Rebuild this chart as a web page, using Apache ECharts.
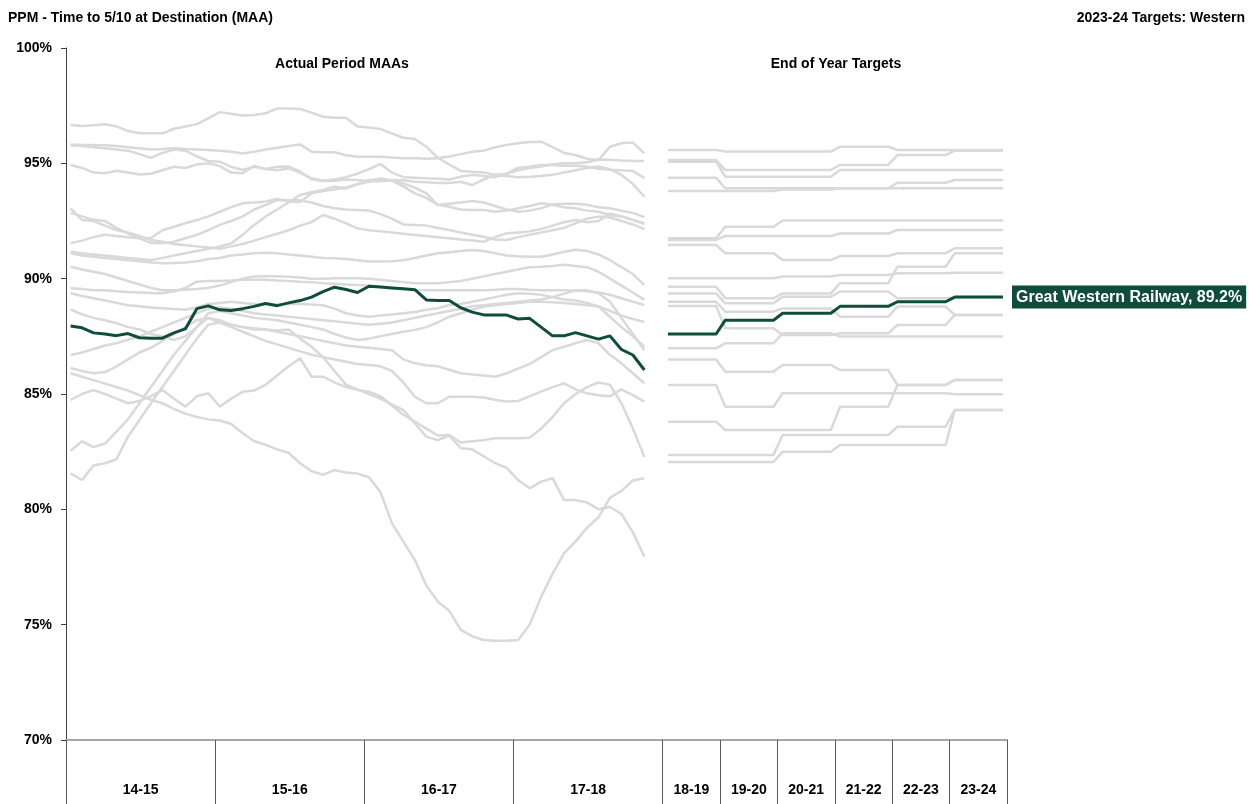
<!DOCTYPE html>
<html>
<head>
<meta charset="utf-8">
<title>PPM - Time to 5/10 at Destination (MAA)</title>
<script src="https://cdn.jsdelivr.net/npm/echarts@6/dist/echarts.min.js"></script>
<style>
html, body { margin: 0; padding: 0; background: #fff; }
#main { width: 1253px; height: 804px; }
</style>
</head>
<body>
<div id="main"></div>
<script>
// PPM MAA chart - actual period MAAs + end of year targets, GWR highlighted
var actualYears = ['14-15', '15-16', '16-17', '17-18'];
var targetYears = ['18-19', '19-20', '20-21', '21-22', '22-23', '23-24'];
var periodsPerYear = 13;
var targetWidth = 5; // a target year takes the width of 5 periods

var gwrName = 'Great Western Railway';
var gwrActual = [87.95, 87.87, 87.65, 87.6, 87.53, 87.62, 87.44, 87.42, 87.42, 87.65,
  87.82, 88.7, 88.82, 88.65, 88.62, 88.7, 88.8, 88.92, 88.83, 88.95,
  89.05, 89.2, 89.44, 89.63, 89.53, 89.4, 89.67, 89.64, 89.6, 89.56,
  89.52, 89.08, 89.05, 89.05, 88.74, 88.55, 88.43, 88.43, 88.42, 88.25,
  88.28, 87.9, 87.52, 87.52, 87.66, 87.52, 87.38, 87.52, 86.93, 86.69,
  86.04];
var gwrTarget = [87.6, 88.2, 88.5, 88.8, 89.0, 89.2];

// other operators, actual period MAAs (P1 14-15 .. P12 17-18)
var otherActual = [
  [96.66, 96.62, 96.65, 96.69, 96.6, 96.4, 96.3, 96.3, 96.3, 96.5,
   96.6, 96.7, 96.95, 97.22, 97.15, 97.07, 97.1, 97.17, 97.38, 97.38,
   97.36, 97.2, 97.02, 96.98, 96.98, 96.6, 96.55, 96.49, 96.3, 96.11,
   96.05, 95.72, 95.24, 94.95, 94.67, 94.64, 94.6, 94.5, 94.55, 94.81,
   94.85, 94.93, 94.93, 94.9, 94.89, 94.85, 94.76, 94.72, 94.7, 94.67,
   94.36],
  [95.82, 95.8, 95.8, 95.78, 95.75, 95.7, 95.65, 95.6, 95.62, 95.65,
   95.62, 95.6, 95.58, 95.55, 95.5, 95.43, 95.5, 95.6, 95.68, 95.75,
   95.82, 95.5, 95.48, 95.48, 95.35, 95.29, 95.29, 95.29, 95.25, 95.22,
   95.22, 95.2, 95.22, 95.3, 95.4, 95.5, 95.55, 95.7, 95.8, 95.87,
   95.92, 95.94, 95.7, 95.45, 95.36, 95.2, 95.14, 95.72, 95.87, 95.9,
   95.43],
  [95.78, 95.75, 95.7, 95.65, 95.6, 95.55, 95.4, 95.24, 95.45, 95.6,
   95.55, 95.3, 95.1, 95.07, 94.85, 94.71, 94.85, 94.75, 94.7, 94.78,
   94.6, 94.35, 94.25, 94.3, 94.4, 94.55, 94.75, 94.97, 94.6, 94.4,
   94.38, 94.35, 94.33, 94.3, 94.42, 94.5, 94.45, 94.4, 94.55, 94.7,
   94.8, 94.86, 94.95, 95.0, 95.0, 95.05, 95.17, 95.15, 95.12, 95.1,
   95.1],
  [94.93, 94.8, 94.6, 94.57, 94.68, 94.6, 94.52, 94.55, 94.7, 94.85,
   94.8, 94.95, 95.0, 94.88, 94.6, 94.57, 94.89, 94.75, 94.85, 94.86,
   94.65, 94.3, 94.23, 94.25, 94.3, 94.28, 94.22, 94.22, 94.28, 94.27,
   94.2, 94.18, 94.15, 94.15, 94.2, 94.06, 94.3, 94.5, 94.45, 94.4,
   94.42, 94.45, 94.5, 94.6, 94.7, 94.8, 94.86, 94.75, 94.5, 94.1,
   93.55],
  [91.54, 91.65, 91.8, 91.9, 91.85, 91.8, 91.75, 91.76, 92.1, 92.25,
   92.4, 92.54, 92.7, 92.9, 93.1, 93.27, 93.3, 93.35, 93.45, 93.35,
   93.32, 93.7, 93.8, 93.87, 93.95, 94.09, 94.2, 94.35, 94.25, 94.13,
   93.95, 93.7, 93.19, 93.25, 93.3, 93.37, 93.3, 93.15, 93.0, 92.9,
   92.95, 93.05, 93.22, 93.25, 93.25, 93.2, 93.1, 93.05, 92.95, 92.85,
   92.67],
  [92.85, 92.7, 92.55, 92.5, 92.2, 91.95, 91.75, 91.55, 91.53, 91.6,
   91.75, 91.9, 92.1, 92.33, 92.5, 92.7, 93.0, 93.2, 93.41, 93.4,
   93.4, 93.3, 93.15, 93.05, 93.0, 92.98, 92.95, 92.8, 92.6, 92.35,
   92.33, 92.3, 92.2, 92.11, 92.0, 91.9, 91.82, 91.7, 91.68, 91.8,
   91.9, 92.0, 92.1, 92.2, 92.4, 92.6, 92.69, 92.65, 92.5, 92.35,
   92.15],
  [91.17, 91.1, 91.05, 91.0, 90.95, 90.9, 90.85, 90.8, 90.9, 91.0,
   91.1, 91.2, 91.3, 91.4, 91.53, 91.9, 92.33, 92.7, 93.0, 93.3,
   93.63, 93.75, 93.84, 94.0, 93.9, 94.1, 94.28, 94.3, 94.25, 94.0,
   93.7, 93.5, 93.2, 93.12, 93.0, 92.98, 92.98, 92.9, 92.95, 93.05,
   93.15, 93.27, 93.2, 93.1, 93.05, 92.95, 92.9, 92.75, 92.7, 92.55,
   92.37],
  [93.05, 92.54, 92.5, 92.3, 92.11, 92.0, 91.85, 91.68, 91.6, 91.5,
   91.45, 91.4, 91.35, 91.3, 91.4, 91.5, 91.65, 91.8, 91.95, 92.1,
   92.3, 92.45, 92.76, 92.6, 92.4, 92.18, 92.1, 92.05, 92.0, 91.95,
   91.89, 91.85, 91.8, 91.75, 91.7, 91.65, 91.6, 91.8, 91.97, 92.0,
   92.05, 92.15, 92.3, 92.45, 92.54, 92.45, 92.5, 92.83, 92.7, 92.55,
   92.4],
  [91.1, 91.0, 90.95, 90.9, 90.85, 90.8, 90.75, 90.7, 90.67, 90.68,
   90.7, 90.75, 90.85, 90.9, 91.0, 91.05, 91.1, 91.12, 91.1, 91.05,
   91.0, 90.95, 90.9, 90.88, 90.85, 90.8, 90.74, 90.74, 90.75, 90.8,
   90.9, 91.0, 91.1, 91.15, 91.2, 91.24, 91.2, 91.1, 91.0, 90.97,
   90.95, 90.95, 91.05, 91.17, 91.25, 91.2, 91.05, 90.8, 90.5, 90.2,
   89.73],
  [90.52, 90.4, 90.3, 90.2, 90.05, 89.9, 89.75, 89.6, 89.5, 89.5,
   89.52, 89.55, 89.6, 89.7, 89.85, 90.0, 90.09, 90.1, 90.1, 90.08,
   90.05, 90.0, 90.0, 90.02, 90.02, 90.02, 90.0, 89.95, 89.9, 89.85,
   89.8, 89.8, 89.8, 89.85, 89.9, 90.0, 90.1, 90.2, 90.3, 90.4,
   90.5, 90.52, 90.55, 90.6, 90.55, 90.5, 90.3, 90.0, 89.7, 89.4,
   89.08],
  [89.58, 89.55, 89.5, 89.5, 89.45, 89.42, 89.4, 89.38, 89.37, 89.45,
   89.6, 89.87, 89.9, 89.9, 89.92, 89.95, 89.95, 89.95, 89.92, 89.9,
   89.87, 89.85, 89.8, 89.78, 89.75, 89.73, 89.7, 89.65, 89.6, 89.55,
   89.51, 89.5, 89.5, 89.5, 89.5, 89.5, 89.5, 89.52, 89.55, 89.55,
   89.52, 89.5, 89.5, 89.5, 89.48, 89.45, 89.4, 89.3, 89.15, 89.0,
   88.86],
  [89.37, 89.25, 89.15, 89.05, 88.95, 88.85, 88.8, 88.75, 88.72, 88.68,
   88.65, 88.75, 88.9, 88.95, 89.0, 88.95, 88.9, 88.9, 88.88, 88.9,
   88.9, 88.88, 88.85, 88.7, 88.5, 88.4, 88.35, 88.4, 88.45, 88.5,
   88.55, 88.65, 88.72, 88.86, 88.9, 89.0, 89.1, 89.2, 89.3, 89.37,
   89.35, 89.3, 89.2, 89.1, 89.05, 88.95, 88.8, 88.6, 88.4, 88.25,
   88.12],
  [88.67, 88.45, 88.3, 88.2, 88.07, 87.9, 87.8, 87.6, 87.5, 87.34,
   87.5, 87.9, 88.5, 88.6, 88.5, 88.4, 88.3, 88.25, 88.2, 88.1,
   88.0, 87.9, 87.8, 87.6, 87.45, 87.34, 87.4, 87.5, 87.6, 87.7,
   87.78, 87.9, 88.1, 88.35, 88.5, 88.65, 88.79, 88.85, 88.9, 88.95,
   89.0, 89.0, 88.98, 88.95, 88.9, 88.85, 88.79, 88.35, 87.9, 87.5,
   87.05],
  [86.69, 86.8, 86.95, 87.1, 87.2, 87.35, 87.5, 87.7, 87.9, 88.1,
   88.3, 88.5, 88.7, 88.75, 88.7, 88.6, 88.5, 88.45, 88.4, 88.35,
   88.3, 88.25, 88.2, 88.15, 88.1, 88.05, 88.0, 88.05, 88.1, 88.2,
   88.3, 88.4, 88.5, 88.6, 88.7, 88.8, 88.85, 88.9, 88.95, 89.0,
   89.05, 89.1, 89.2, 89.35, 89.5, 89.5, 89.37, 89.0, 88.3, 87.6,
   86.9],
  [82.54, 82.95, 82.7, 82.85, 83.37, 83.9, 84.6, 85.3, 86.0, 86.7,
   87.3, 87.9, 88.3, 88.2, 88.0, 87.9, 87.85, 87.8, 87.7, 87.6,
   87.5, 87.4, 87.3, 87.2, 87.1, 87.05, 87.0, 86.95, 86.9, 86.5,
   86.33, 86.25, 86.2, 86.05, 85.9, 85.85, 85.8, 85.75, 85.9, 86.1,
   86.3, 86.6, 86.9, 87.05, 87.2, 87.34, 87.2, 86.7, 86.33, 85.9,
   85.46],
  [81.56, 81.27, 81.9, 82.0, 82.17, 83.15, 83.87, 84.6, 85.3, 86.0,
   86.7, 87.4, 88.0, 88.1, 87.9, 87.7, 87.5, 87.3, 87.15, 87.0,
   86.85, 86.7, 86.6, 86.5, 86.4, 86.3, 86.26, 86.2, 86.0, 85.5,
   84.88, 84.6, 84.6, 84.88, 84.88, 84.88, 84.85, 84.75, 84.67, 84.7,
   84.9, 85.1, 85.3, 85.46, 85.2, 85.03, 84.95, 84.9, 85.2, 84.95,
   84.67],
  [84.74, 85.0, 85.17, 85.0, 84.8, 84.6, 84.7, 84.9, 85.17, 84.8,
   84.45, 84.9, 85.03, 84.45, 84.8, 85.1, 85.15, 85.4, 85.8, 86.2,
   86.55, 85.75, 85.75, 85.5, 85.3, 85.17, 85.1, 84.9, 84.5, 84.1,
   83.8, 83.5, 83.2, 83.22, 82.9, 82.95, 83.0, 83.08, 83.08, 83.08,
   83.1, 83.5, 84.0, 84.6, 85.0, 85.3, 85.5, 85.4, 84.6, 83.5,
   82.27],
  [85.9, 85.75, 85.6, 85.45, 85.3, 85.15, 84.95, 84.75, 84.6, 84.35,
   84.15, 84.0, 83.9, 83.85, 83.7, 83.3, 82.95, 82.8, 82.6, 82.45,
   82.0, 81.65, 81.5, 81.7, 81.6, 81.55, 81.39, 80.75, 79.4, 78.6,
   77.8, 76.7, 76.0, 75.6, 74.77, 74.5, 74.33, 74.3, 74.3, 74.33,
   75.0, 76.2, 77.2, 78.1, 78.6, 79.2, 79.65, 80.5, 80.8, 81.25,
   81.35],
  [86.13, 86.0, 85.9, 85.95, 86.2, 86.5, 86.8, 87.0, 87.3, 87.6,
   87.9, 88.2, 88.3, 88.1, 88.0, 87.9, 87.8, 87.8, 87.75, 87.8,
   87.4, 87.05, 86.6, 86.0, 85.4, 85.2, 85.0, 84.8, 84.55, 84.3,
   83.73, 83.15, 83.0, 83.2, 82.65, 82.6, 82.3, 82.0, 81.8, 81.27,
   80.91, 81.2, 81.35, 80.4, 80.4, 80.3, 80.0, 80.1, 79.8, 79.0,
   77.95]
];

// other operators, end of year targets 18-19 .. 23-24
var otherTarget = [
  [95.58, 95.51, 95.51, 95.72, 95.58, 95.58],
  [95.14, 94.71, 94.71, 94.93, 95.36, 95.55],
  [95.07, 94.42, 94.42, 94.71, 94.71, 94.71],
  [94.38, 93.92, 93.92, 93.92, 94.16, 94.28],
  [93.8, 93.8, 93.87, 93.92, 93.92, 93.92],
  [91.75, 92.25, 92.52, 92.52, 92.52, 92.52],
  [91.68, 91.85, 91.85, 91.96, 92.11, 92.11],
  [91.46, 91.1, 90.81, 90.98, 91.1, 91.32],
  [90.02, 90.02, 90.09, 90.16, 90.23, 90.26],
  [89.65, 89.15, 89.36, 89.8, 90.52, 91.1],
  [89.36, 88.93, 89.22, 89.44, 89.15, 89.18],
  [89.0, 88.57, 88.71, 88.35, 88.79, 88.43],
  [88.82, 87.85, 87.56, 87.63, 87.99, 88.43],
  [86.98, 87.2, 87.63, 87.49, 87.49, 87.49],
  [86.5, 85.97, 86.26, 86.04, 85.39, 85.61],
  [85.39, 84.45, 85.03, 85.03, 85.03, 84.99],
  [83.8, 83.44, 83.44, 84.45, 85.39, 85.61],
  [82.36, 82.36, 83.22, 83.22, 83.58, 84.31],
  [82.05, 82.05, 82.5, 82.79, 82.79, 84.31]
];

var FONT = '"Liberation Sans", Arial, sans-serif';
var GREY = '#d9d9d9';
var GREEN = '#0e4d3c';

var actualEnd = actualYears.length * periodsPerYear;
var xMax = actualEnd + targetYears.length * targetWidth;

function actualPoints(vals) {
  return vals.map(function (v, i) { return [i + 0.4, v]; });
}
function targetPoints(vals) {
  var pts = [];
  vals.forEach(function (v, k) {
    var x0 = actualEnd + k * targetWidth;
    pts.push([x0 + 0.45, v], [x0 + targetWidth - 0.35, v]);
  });
  return pts;
}

// tick boundaries and label positions on the bottom axis
var tickVals = [], labelVals = [], labelText = {};
actualYears.forEach(function (y, k) {
  tickVals.push(k * periodsPerYear);
  labelVals.push(k * periodsPerYear + periodsPerYear / 2);
  labelText[k * periodsPerYear + periodsPerYear / 2] = y;
});
targetYears.forEach(function (y, k) {
  tickVals.push(actualEnd + k * targetWidth);
  labelVals.push(actualEnd + k * targetWidth + targetWidth / 2);
  labelText[actualEnd + k * targetWidth + targetWidth / 2] = y;
});
tickVals.push(xMax);

var series = [];
otherActual.forEach(function (vals, n) {
  series.push({
    name: 'op' + n + ' actual', type: 'line', data: actualPoints(vals),
    symbol: 'none', silent: true, z: 2,
    lineStyle: { color: GREY, width: 2.5 }
  });
});
otherTarget.forEach(function (vals, n) {
  series.push({
    name: 'op' + n + ' target', type: 'line', data: targetPoints(vals),
    symbol: 'none', silent: true, z: 2,
    lineStyle: { color: GREY, width: 2.5 }
  });
});
series.push({
  name: gwrName, type: 'line', data: actualPoints(gwrActual),
  symbol: 'none', z: 5, lineStyle: { color: GREEN, width: 3 }
});
series.push({
  name: gwrName + ' target', type: 'line', data: targetPoints(gwrTarget),
  symbol: 'none', z: 5, lineStyle: { color: GREEN, width: 3 },
  endLabel: {
    show: true, distance: 9,
    formatter: function (p) { return gwrName + ', ' + p.value[1].toFixed(1) + '%'; },
    color: '#fff', backgroundColor: GREEN, padding: [4, 4, 3, 4],
    fontFamily: FONT, fontWeight: 'bold', fontSize: 16
  }
});

var dom = document.getElementById('main');
var myChart = echarts.init(dom, null, { renderer: 'canvas' });
var boldText = { fontFamily: FONT, fontWeight: 'bold', fontSize: 14, color: '#000' };

var option = {
  animation: false,
  backgroundColor: '#fff',
  title: [
    { text: 'PPM - Time to 5/10 at Destination (MAA)', left: 8, top: 11, padding: 0, textStyle: boldText },
    { text: '2023-24 Targets: Western', right: 8, top: 11, padding: 0, textStyle: boldText },
    { text: 'Actual Period MAAs', left: 342, top: 57, padding: 0, textAlign: 'center', textStyle: boldText },
    { text: 'End of Year Targets', left: 836, top: 57, padding: 0, textAlign: 'center', textStyle: boldText }
  ],
  grid: { left: 66, right: 246, top: 48, bottom: 64, containLabel: false },
  xAxis: {
    type: 'value', min: 0, max: xMax,
    axisLine: { show: true, onZero: false, lineStyle: { color: '#a6a6a6', width: 2 } },
    axisTick: { show: true, customValues: tickVals, length: 64, lineStyle: { color: '#595959', width: 1 } },
    axisLabel: {
      customValues: labelVals, margin: 43,
      formatter: function (v) { return labelText[v] || ''; },
      fontFamily: FONT, fontWeight: 'bold', fontSize: 14, color: '#000'
    },
    splitLine: { show: false }
  },
  yAxis: {
    type: 'value', min: 70, max: 100, interval: 5,
    axisLine: { show: true, lineStyle: { color: '#404040', width: 1 } },
    axisTick: { show: true, length: 5, lineStyle: { color: '#404040' } },
    axisLabel: { formatter: '{value}%', margin: 14, fontFamily: FONT, fontWeight: 'bold', fontSize: 14, color: '#000' },
    splitLine: { show: false }
  },
  series: series
};

if (option && typeof option === 'object') {
  myChart.setOption(option, true);
}
</script>
</body>
</html>
